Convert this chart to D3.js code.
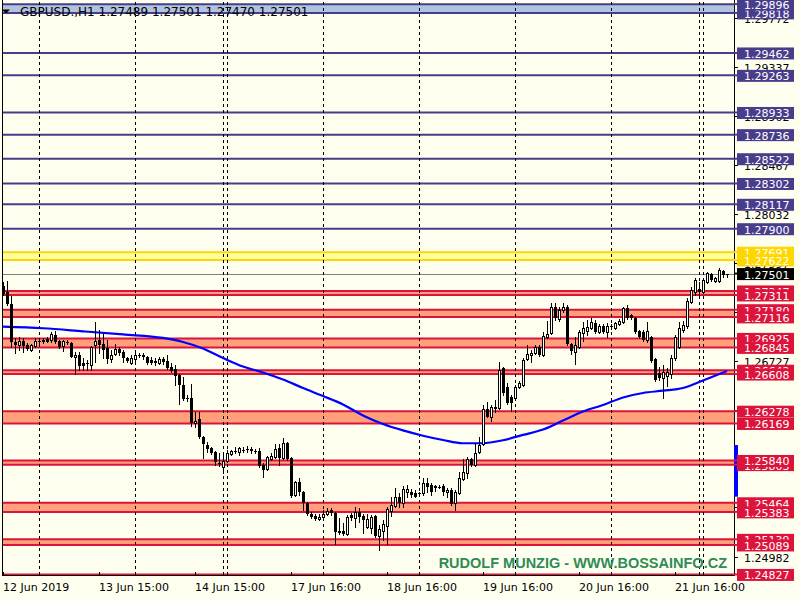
<!DOCTYPE html>
<html><head><meta charset="utf-8">
<script src="https://cdn.jsdelivr.net/npm/d3@7"></script>
<style>html,body{margin:0;padding:0;background:#fffff0}svg{display:block}</style>
</head><body>
<svg id="chart" width="800" height="600"></svg>
<script>
// ---------------- DATA ----------------
const symbolTitle = "GBPUSD.,H1  1.27489 1.27501 1.27470 1.27501";
const watermark = "RUDOLF MUNZIG - WWW.BOSSAINFO.CZ";

const openP = [1.27393,1.27337,1.27231,1.26895,1.26866,1.26902,1.26866,1.26822,1.26857,1.26897,
1.26911,1.26917,1.26911,1.26955,1.26902,1.26857,1.26895,1.26887,1.26757,1.26777,
1.26704,1.26704,1.26688,1.26864,1.26911,1.26875,1.26837,1.26739,1.26784,1.26828,
1.26807,1.26753,1.26704,1.26739,1.26773,1.26777,1.26757,1.26733,1.26727,1.26704,
1.26739,1.26727,1.26673,1.26653,1.26600,1.26511,1.26398,1.26393,1.26173,1.26209,
1.26049,1.25977,1.25951,1.25915,1.25817,1.25782,1.25835,1.25897,1.25924,1.25915,
1.25933,1.25942,1.25942,1.25928,1.25926,1.25800,1.25764,1.25853,1.25871,1.25951,
1.25862,1.25995,1.25862,1.25533,1.25649,1.25560,1.25462,1.25364,1.25346,1.25320,
1.25337,1.25364,1.25400,1.25373,1.25213,1.25213,1.25186,1.25355,1.25328,1.25382,
1.25346,1.25248,1.25240,1.25346,1.25168,1.25213,1.25257,1.25391,1.25435,1.25515,
1.25462,1.25560,1.25560,1.25551,1.25551,1.25551,1.25640,1.25622,1.25613,1.25604,
1.25613,1.25560,1.25578,1.25462,1.25551,1.25675,1.25729,1.25853,1.25800,1.25915,
1.25986,1.26298,1.26226,1.26315,1.26306,1.26662,1.26493,1.26404,1.26395,1.26493,
1.26511,1.26742,1.26777,1.26795,1.26849,1.26777,1.26937,1.26973,1.27204,1.27097,
1.27177,1.27204,1.26875,1.26804,1.26849,1.26973,1.26991,1.27017,1.27062,1.26982,
1.27035,1.26982,1.27035,1.27017,1.27053,1.27071,1.27195,1.27133,1.27106,1.26991,
1.26982,1.26911,1.26937,1.26742,1.26617,1.26573,1.26591,1.26608,1.26751,1.26849,
1.27000,1.27035,1.27249,1.27337,1.27364,1.27337,1.27426,1.27497,1.27435,1.27435,
1.27524,1.27489];

const highP = [1.27426,1.27435,1.27302,1.26929,1.26940,1.26926,1.26881,1.26875,1.26926,1.26911,
1.26926,1.26940,1.26985,1.26991,1.26911,1.26911,1.26911,1.26895,1.26807,1.26807,
1.26748,1.26733,1.26857,1.27068,1.27000,1.26964,1.26911,1.26822,1.26875,1.26851,
1.26822,1.26762,1.26777,1.26822,1.26793,1.26798,1.26768,1.26757,1.26748,1.26757,
1.26762,1.26777,1.26709,1.26688,1.26608,1.26582,1.26422,1.26517,1.26271,1.26271,
1.26058,1.26004,1.25960,1.25924,1.25906,1.25906,1.25933,1.25933,1.25960,1.25960,
1.25962,1.25968,1.25962,1.25942,1.25951,1.25817,1.25880,1.25906,1.25986,1.25986,
1.26040,1.26004,1.25871,1.25658,1.25684,1.25569,1.25471,1.25382,1.25364,1.25364,
1.25400,1.25418,1.25418,1.25382,1.25328,1.25284,1.25355,1.25373,1.25426,1.25418,
1.25364,1.25364,1.25355,1.25355,1.25266,1.25311,1.25426,1.25515,1.25595,1.25551,
1.25613,1.25622,1.25586,1.25578,1.25560,1.25684,1.25684,1.25640,1.25622,1.25622,
1.25631,1.25595,1.25595,1.25578,1.25738,1.25853,1.25871,1.25862,1.25995,1.26049,
1.26333,1.26360,1.26333,1.26378,1.26715,1.26671,1.26529,1.26422,1.26511,1.26546,
1.26751,1.26866,1.26822,1.26866,1.26866,1.26982,1.27080,1.27240,1.27240,1.27204,
1.27240,1.27222,1.26884,1.26937,1.27000,1.27071,1.27088,1.27106,1.27088,1.27053,
1.27053,1.27062,1.27053,1.27071,1.27097,1.27204,1.27222,1.27142,1.27115,1.27000,
1.27000,1.27071,1.26946,1.26751,1.26671,1.26688,1.26662,1.26777,1.26955,1.27071,
1.27080,1.27284,1.27382,1.27462,1.27426,1.27462,1.27515,1.27506,1.27471,1.27551,
1.27533,1.27501];

const lowP = [1.27311,1.27226,1.26851,1.26795,1.26822,1.26807,1.26822,1.26813,1.26846,1.26881,
1.26887,1.26890,1.26895,1.26887,1.26842,1.26813,1.26875,1.26757,1.26606,1.26644,
1.26644,1.26644,1.26644,1.26718,1.26793,1.26748,1.26704,1.26718,1.26777,1.26777,
1.26718,1.26718,1.26697,1.26727,1.26757,1.26739,1.26697,1.26697,1.26688,1.26697,
1.26697,1.26651,1.26629,1.26511,1.26342,1.26378,1.26369,1.26149,1.26137,1.26040,
1.25862,1.25915,1.25897,1.25800,1.25791,1.25729,1.25826,1.25888,1.25906,1.25888,
1.25918,1.25918,1.25904,1.25904,1.25782,1.25693,1.25755,1.25844,1.25862,1.25800,
1.25853,1.25844,1.25515,1.25524,1.25533,1.25400,1.25355,1.25328,1.25311,1.25311,
1.25328,1.25355,1.25355,1.25097,1.25186,1.25177,1.25177,1.25311,1.25248,1.25293,
1.25195,1.25240,1.25195,1.25160,1.25044,1.25133,1.25097,1.25346,1.25426,1.25426,
1.25426,1.25515,1.25515,1.25511,1.25542,1.25533,1.25560,1.25533,1.25569,1.25595,
1.25533,1.25515,1.25444,1.25400,1.25542,1.25666,1.25684,1.25791,1.25791,1.25906,
1.25977,1.26226,1.26191,1.26271,1.26298,1.26422,1.26342,1.26280,1.26386,1.26484,
1.26502,1.26733,1.26715,1.26786,1.26768,1.26768,1.26929,1.26964,1.27088,1.27080,
1.27160,1.26866,1.26786,1.26697,1.26840,1.26902,1.26955,1.27008,1.26973,1.26973,
1.26973,1.26937,1.27008,1.27008,1.27044,1.27066,1.27097,1.27097,1.26973,1.26929,
1.26902,1.26893,1.26715,1.26546,1.26555,1.26395,1.26502,1.26573,1.26733,1.26840,
1.26982,1.27017,1.27240,1.27311,1.27302,1.27329,1.27417,1.27435,1.27426,1.27426,
1.27471,1.27470];

const closeP = [1.27320,1.27231,1.26895,1.26866,1.26902,1.26857,1.26831,1.26866,1.26904,1.26902,
1.26895,1.26895,1.26964,1.26895,1.26851,1.26902,1.26887,1.26762,1.26777,1.26682,
1.26682,1.26695,1.26851,1.26902,1.26866,1.26822,1.26739,1.26777,1.26831,1.26793,
1.26748,1.26724,1.26748,1.26777,1.26777,1.26757,1.26704,1.26709,1.26704,1.26739,
1.26718,1.26665,1.26638,1.26593,1.26511,1.26384,1.26384,1.26170,1.26195,1.26049,
1.25986,1.25942,1.25906,1.25826,1.25809,1.25835,1.25906,1.25924,1.25928,1.25951,
1.25937,1.25946,1.25924,1.25924,1.25791,1.25755,1.25871,1.25880,1.25942,1.25862,
1.25995,1.25853,1.25524,1.25649,1.25560,1.25462,1.25364,1.25337,1.25320,1.25337,
1.25364,1.25391,1.25373,1.25204,1.25195,1.25186,1.25337,1.25328,1.25382,1.25337,
1.25311,1.25320,1.25337,1.25168,1.25231,1.25275,1.25409,1.25444,1.25515,1.25462,
1.25586,1.25586,1.25533,1.25515,1.25546,1.25640,1.25604,1.25560,1.25595,1.25600,
1.25560,1.25578,1.25453,1.25560,1.25684,1.25738,1.25853,1.25800,1.25906,1.25977,
1.26298,1.26226,1.26315,1.26298,1.26644,1.26440,1.26351,1.26351,1.26493,1.26529,
1.26733,1.26786,1.26791,1.26849,1.26777,1.26946,1.26964,1.27204,1.27106,1.27177,
1.27204,1.26875,1.26813,1.26866,1.26982,1.27017,1.27026,1.27071,1.26982,1.27035,
1.26982,1.27035,1.27026,1.27062,1.27080,1.27195,1.27106,1.27106,1.26982,1.26937,
1.26911,1.26991,1.26724,1.26555,1.26573,1.26626,1.26626,1.26751,1.26937,1.27017,
1.27044,1.27257,1.27355,1.27444,1.27337,1.27444,1.27506,1.27444,1.27462,1.27533,
1.27489,1.27501];

// moving average, read at selected bars
const maBars   = [0,10,20,30,40,45,50,55,60,65,70,75,80,85,90,95,100,105,110,115,120,125,130,135,140,145,150,155,160,165,170,175,181];
const maValues = [1.27029,1.27015,1.26988,1.26960,1.26929,1.26893,1.26835,1.26751,1.26675,1.26622,1.26560,1.26484,1.26413,1.26338,1.26240,1.26164,1.26107,1.26060,1.26022,1.25993,1.25993,1.26020,1.26067,1.26115,1.26195,1.26275,1.26333,1.26400,1.26440,1.26460,1.26484,1.26551,1.26635];

// time axis
const timeLabels   = ["12 Jun 2019","13 Jun 15:00","14 Jun 15:00","17 Jun 16:00","18 Jun 16:00","19 Jun 16:00","20 Jun 16:00","21 Jun 16:00"];
const timeLabelBars = [0,24,48,72,96,120,144,168];
const separatorBars = [9,33,55,56,80,104,128,152,174,175];

// price axis
const priceTicks = [1.29772,1.29337,1.28902,1.28467,1.28032,1.27597,1.27162,1.26727,1.26292,1.25857,1.25422,1.24982];
const currentPrice = 1.27501;

// horizontal levels
const navyBand  = [1.29896,1.29818];
const navyLines = [1.29462,1.29263,1.28933,1.28736,1.28522,1.28302,1.28117,1.27900];
const yellowZone = [1.27691,1.27622];
const redZoneTop    = [1.27347,1.27180,1.26925,1.26642,1.26278,1.25840,1.25464,1.25139];
const redZoneBottom = [1.27311,1.27116,1.26845,1.26608,1.26169,1.25803,1.25383,1.25089];
const redLines = [1.24827];
const blueRange = [1.25518,1.25977];

// ---------------- DRAWING ----------------
const W = 800, H = 600;
const P = {left:2, right:734, top:2, bottom:575};
const C = {bg:"#fffff0", navy:"#483d8b", navyFill:"#b0c4de", red:"#dc143c", salmon:"#ffa07a",
           gold:"#ffd700", goldFill:"#ffffa0", ma:"#0000ff", wm:"#2e8b57"};
const FONT = "'DejaVu Sans', Verdana, sans-serif";

const y = d3.scaleLinear().domain([1.24822,1.29915]).range([P.bottom, P.top]);
const x = d3.scaleLinear().domain([0,181]).range([3,727]);
const bars = d3.range(openP.length);

const svg = d3.select("#chart");
svg.append("rect").attr("width",W).attr("height",H).attr("fill",C.bg);

const gz = svg.append("g");
function zone(top, bot, fill, stroke){
  const y1 = y(top), y2 = y(bot);
  gz.append("rect").attr("x",P.left).attr("y",y1).attr("width",P.right-P.left).attr("height",y2-y1).attr("fill",fill);
  [y1,y2].forEach(v=>gz.append("line").attr("x1",P.left).attr("x2",P.right).attr("y1",v).attr("y2",v)
     .attr("stroke",stroke).attr("stroke-width",2));
}
function hline(v, stroke, w){
  gz.append("line").attr("x1",P.left).attr("x2",P.right).attr("y1",y(v)).attr("y2",y(v))
    .attr("stroke",stroke).attr("stroke-width",w);
}
zone(navyBand[0], navyBand[1], C.navyFill, C.navy);
navyLines.forEach(v=>hline(v, C.navy, 2));
zone(yellowZone[0], yellowZone[1], C.goldFill, C.gold);
redZoneTop.forEach((t,i)=>zone(t, redZoneBottom[i], C.salmon, C.red));
redLines.forEach(v=>hline(v, C.red, 2));

// current price line
gz.append("line").attr("x1",P.left).attr("x2",P.right).attr("y1",Math.round(y(currentPrice))+0.5)
  .attr("y2",Math.round(y(currentPrice))+0.5).attr("stroke","#808080").attr("stroke-width",1);

// title (drawn over the top band)
svg.append("path").attr("d","M2,9.5 L10,9.5 L6,13.5 Z").attr("fill","#000");
svg.append("text").attr("x",20).attr("y",16).attr("font-family",FONT).attr("font-size",12)
   .attr("fill","#000").text(symbolTitle);

// period separators
svg.append("g").selectAll("line").data(separatorBars).join("line")
  .attr("x1",d=>Math.round(x(d))+0.5).attr("x2",d=>Math.round(x(d))+0.5)
  .attr("y1",P.top).attr("y2",P.bottom).attr("stroke","#000").attr("stroke-width",1)
  .attr("stroke-dasharray","3,3");

// moving average
svg.append("path").datum(maBars)
  .attr("d", d3.line().x(d=>x(d)).y((d,i)=>y(maValues[i])).curve(d3.curveMonotoneX))
  .attr("fill","none").attr("stroke",C.ma).attr("stroke-width",2.2);

// candles
const gc = svg.append("g");
gc.selectAll("line").data(bars).join("line")
  .attr("x1",i=>Math.round(x(i))+0.5).attr("x2",i=>Math.round(x(i))+0.5)
  .attr("y1",i=>Math.round(y(highP[i]))).attr("y2",i=>Math.round(y(lowP[i]))+1)
  .attr("stroke","#000").attr("stroke-width",1);
gc.selectAll("rect").data(bars).join("rect")
  .each(function(i){
    const cx = Math.round(x(i));
    const o = Math.round(y(openP[i])), c = Math.round(y(closeP[i]));
    const top = Math.min(o,c), bot = Math.max(o,c);
    const el = d3.select(this);
    if (closeP[i] > openP[i] && bot-top >= 2){
      el.attr("x",cx-0.5).attr("y",top+0.5).attr("width",2).attr("height",bot-top)
        .attr("fill","#fff").attr("stroke","#000").attr("stroke-width",1);
    } else {
      el.attr("x",cx-1).attr("y",top).attr("width",3).attr("height",Math.max(bot-top,1))
        .attr("fill","#000");
    }
  });

// frame
svg.append("line").attr("x1",P.right+0.5).attr("x2",P.right+0.5).attr("y1",0).attr("y2",P.bottom+1).attr("stroke","#000");
svg.append("line").attr("x1",P.left+0.5).attr("x2",P.left+0.5).attr("y1",0).attr("y2",P.bottom+1).attr("stroke","#000");
svg.append("line").attr("x1",P.left).attr("x2",P.right).attr("y1",P.bottom+0.5).attr("y2",P.bottom+0.5).attr("stroke","#000");

// time axis
const gx = svg.append("g");
gx.selectAll("line.t").data(timeLabelBars.concat(separatorBars)).join("line")
  .attr("x1",d=>Math.round(x(d))+0.5).attr("x2",d=>Math.round(x(d))+0.5)
  .attr("y1",P.bottom-3).attr("y2",P.bottom).attr("stroke","#000");
gx.selectAll("text").data(timeLabels).join("text")
  .attr("x",(d,i)=>Math.round(x(timeLabelBars[i]))).attr("y",591)
  .attr("font-family",FONT).attr("font-size",11).attr("fill","#000").text(d=>d);

// watermark
svg.append("text").attr("x",727).attr("y",568).attr("text-anchor","end")
  .attr("font-family","'Liberation Sans', Arial, sans-serif").attr("font-weight","bold").attr("font-size",14.5)
  .attr("fill",C.wm).text(watermark);

// price axis
const gy = svg.append("g");
const fmt = d3.format(".5f");
gy.selectAll("line").data(priceTicks).join("line")
  .attr("x1",P.right).attr("x2",P.right+4).attr("y1",d=>Math.round(y(d))+0.5).attr("y2",d=>Math.round(y(d))+0.5)
  .attr("stroke","#000");
gy.selectAll("text").data(priceTicks).join("text")
  .attr("x",744).attr("y",d=>y(d)+5).attr("font-family",FONT).attr("font-size",11).attr("fill","#000")
  .text(d=>fmt(d));

// blue range marker on axis
svg.append("rect").attr("x",P.right).attr("y",y(blueRange[1])).attr("width",4)
  .attr("height",y(blueRange[0])-y(blueRange[1])).attr("fill","#0000ff");

function label(v, bg, fg){
  const yy = y(v);
  svg.append("line").attr("x1",P.right).attr("x2",737).attr("y1",yy).attr("y2",yy).attr("stroke",bg).attr("stroke-width",2);
  svg.append("rect").attr("x",737).attr("y",yy-5.5).attr("width",57).attr("height",12).attr("fill",bg);
  svg.append("text").attr("x",744).attr("y",yy+5).attr("font-family",FONT).attr("font-size",11)
     .attr("fill",fg).text(fmt(v));
}
label(navyBand[1], C.navy, "#fff"); label(navyBand[0], C.navy, "#fff");
navyLines.forEach(v=>label(v, C.navy, "#fff"));
label(yellowZone[0], C.gold, "#fff"); label(yellowZone[1], C.gold, "#fff");
label(currentPrice, "#000", "#fff");
redZoneTop.forEach((t,i)=>{
  if (i === 5){ label(redZoneBottom[i], C.red, "#fff"); label(t, C.red, "#fff"); }
  else { label(t, C.red, "#fff"); label(redZoneBottom[i], C.red, "#fff"); }
});
redLines.forEach(v=>label(v, C.red, "#fff"));
</script>
</body></html>
